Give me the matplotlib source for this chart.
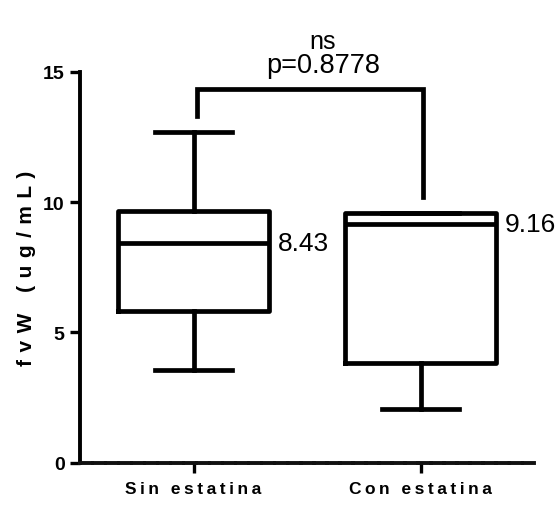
import matplotlib
matplotlib.use("Agg")
import matplotlib.pyplot as plt

categories = ["Sin estatina", "Con estatina"]
whisker_low = [3.57, 2.06]
q1 = [5.83, 3.82]
medians = [8.43, 9.16]
q3 = [9.67, 9.59]
whisker_high = [12.71, 9.59]
median_labels = ["8.43", "9.16"]
p_text = "p=0.8778"
sig_text = "ns"
bracket_left_bottom = 13.31
bracket_right_bottom = 10.2
bracket_top = 14.35
yticks = [0, 5, 10, 15]

def spaced(s, sep=" "):
    return sep.join(list(s))

plt.rcParams['font.family'] = ['Liberation Sans', 'DejaVu Sans']

fig = plt.figure(figsize=(5.58, 5.06), dpi=100)
ax = fig.add_axes([80/558, 1 - 463.5/506, (534-80)/558, (463.5-73)/506])

stats = []
for i, c in enumerate(categories):
    stats.append(dict(label=c, whislo=whisker_low[i], q1=q1[i], med=medians[i],
                      q3=q3[i], whishi=whisker_high[i], fliers=[]))

lw = 3.4
ax.bxp(stats, positions=[0, 1], widths=0.665, showfliers=False,
       boxprops=dict(color='black', linewidth=lw),
       whiskerprops=dict(color='black', linewidth=lw),
       capprops=dict(color='black', linewidth=lw),
       medianprops=dict(color='black', linewidth=lw),
       capwidths=0.335, manage_ticks=False)

for i, lab in enumerate(median_labels):
    ax.text(i + 0.37, medians[i], lab, ha='left', va='center',
            fontsize=19, color='black', clip_on=False)

# significance bracket
ax.plot([0.015, 0.015, 1.01, 1.01],
        [bracket_left_bottom, bracket_top, bracket_top, bracket_right_bottom],
        color='black', linewidth=lw, clip_on=False, solid_joinstyle='miter')
ax.text(0.57, 15.25, p_text, ha='center', va='center', fontsize=19.5, clip_on=False)
ax.text(0.57, 16.2, sig_text, ha='center', va='center', fontsize=18, clip_on=False)

ax.set_xlim(-0.5, 1.5)
ax.set_ylim(0, 15)
ax.set_yticks(yticks)
ax.set_yticklabels([str(t) for t in yticks], fontsize=14, fontweight='bold')
ax.set_xticks([0, 1])
ax.set_xticklabels([spaced(c, "\u2009") for c in categories], fontsize=12.5, fontweight='bold')

ax.spines['top'].set_visible(False)
ax.spines['right'].set_visible(False)
ax.spines['left'].set_linewidth(2.8)
ax.spines['bottom'].set_linewidth(2.8)
ax.spines['bottom'].set_linestyle((0, (3, 0.35)))
ax.spines['bottom'].set_color('#111111')
ax.tick_params(axis='both', direction='out', length=7, width=2.4)
ax.tick_params(axis='y', pad=4)
ax.tick_params(axis='x', pad=6)

ax.set_ylabel(spaced("fvW (ug/mL)", " \u200a"), fontsize=15, fontweight='bold', labelpad=5)

fig.savefig("out.png", dpi=100)
